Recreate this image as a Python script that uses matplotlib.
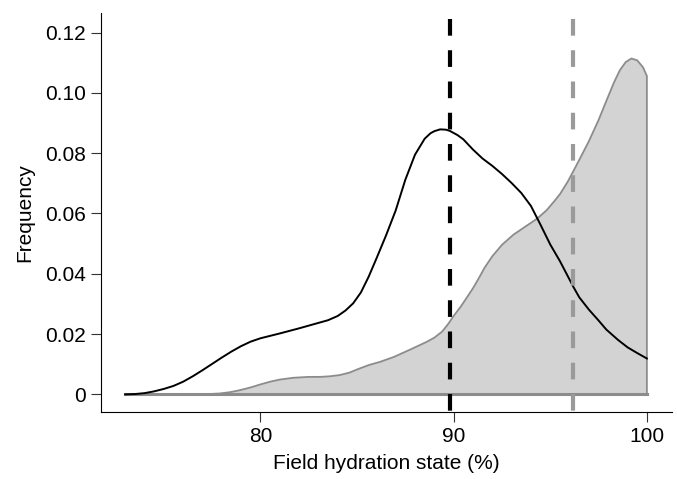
import numpy as np
import matplotlib.pyplot as plt

plt.rcParams['font.family'] = ['Liberation Sans', 'DejaVu Sans']

# Densidad de la curva negra
x_negra = [73.0, 73.5, 74.0, 74.5, 75.0, 75.5, 76.0, 76.5, 77.0, 77.5, 78.0, 78.5, 79.0,
           79.5, 80.0, 81.0, 82.0, 83.0, 83.5, 84.0, 84.4, 84.8, 85.2, 85.6, 86.0, 86.5,
           87.0, 87.5, 88.0, 88.5, 88.8, 89.0, 89.3, 89.6, 89.8, 90.2, 90.5, 91.0, 91.5,
           92.0, 92.5, 93.0, 93.5, 94.0, 94.5, 95.0, 95.5, 96.2, 96.5, 97.0, 97.5, 97.9,
           98.5, 99.0, 99.5, 100.0]
dens_negra = [0.0, 0.0001, 0.0004, 0.0010, 0.0018, 0.0028, 0.0042, 0.0060, 0.0080, 0.0101,
              0.0122, 0.0142, 0.0160, 0.0175, 0.0186, 0.0202, 0.0219, 0.0237, 0.0246,
              0.0260, 0.0278, 0.0302, 0.0338, 0.0390, 0.0450, 0.0527, 0.0610, 0.0712,
              0.0795, 0.0848, 0.0866, 0.0873, 0.0879, 0.0878, 0.0874, 0.0860, 0.0846,
              0.0812, 0.0782, 0.0758, 0.0731, 0.0701, 0.0668, 0.0625, 0.0562, 0.0497,
              0.0442, 0.0356, 0.0322, 0.0281, 0.0245, 0.0215, 0.0181, 0.0156, 0.0137,
              0.0119]

# Densidad de la curva gris (área sombreada)
x_gris = [73.0, 77.0, 77.9, 78.4, 78.8, 79.2, 79.6, 80.0, 80.5, 81.0, 81.7, 82.5, 83.1,
          83.6, 84.1, 84.6, 85.1, 85.6, 86.2, 86.9, 87.8, 88.6, 89.0, 89.4, 89.7, 90.0,
          90.4, 90.7, 91.0, 91.3, 91.6, 92.0, 92.5, 93.1, 93.7, 94.3, 94.8, 95.2, 95.5,
          95.9, 96.2, 96.6, 97.0, 97.5, 97.9, 98.3, 98.6, 98.9, 99.2, 99.5, 99.8, 100.0]
dens_gris = [0.0, 0.0, 0.0003, 0.0007, 0.0012, 0.0018, 0.0025, 0.0033, 0.0042, 0.0049,
             0.0055, 0.0058, 0.0058, 0.0060, 0.0064, 0.0072, 0.0085, 0.0097, 0.0108,
             0.0124, 0.0150, 0.0174, 0.0188, 0.0208, 0.0232, 0.0260, 0.0294, 0.0323,
             0.0352, 0.0385, 0.0420, 0.0458, 0.0496, 0.0530, 0.0556, 0.0582, 0.0610,
             0.0640, 0.0664, 0.0705, 0.0741, 0.0790, 0.0840, 0.0910, 0.0973, 0.1035,
             0.1075, 0.1102, 0.1114, 0.1108, 0.1085, 0.1056]

# Medias (líneas discontinuas)
media_negra = 89.83
media_gris = 96.18

yticks = [0, 0.02, 0.04, 0.06, 0.08, 0.10, 0.12]
ytick_labels = ['0', '0.02', '0.04', '0.06', '0.08', '0.10', '0.12']
xticks = [80, 90, 100]

fig = plt.figure(figsize=(6.77, 4.79), dpi=100)
ax = fig.add_axes([101 / 677, 1 - 412 / 479, 571 / 677, 399 / 479])

# Área gris
xg = np.array(x_gris)
yg = np.array(dens_gris)
ax.fill(np.concatenate([xg, [xg[-1], xg[0]]]), np.concatenate([yg, [0, 0]]),
        facecolor='#d3d3d3', edgecolor='#8c8c8c', linewidth=1.3, zorder=1)
ax.plot([xg[0], xg[-1]], [0, 0], color='#8c8c8c', linewidth=2.2, zorder=2)

# Curva negra
ax.plot(x_negra, dens_negra, color='black', linewidth=1.4, zorder=3)

# Líneas de la media
ax.plot([media_negra, media_negra], [0.1245, -0.0059], color='black', linewidth=3,
        dashes=(4, 3.5), zorder=4, clip_on=False)
ax.plot([media_gris, media_gris], [0.1245, -0.0059], color='#9a9a9a', linewidth=3,
        dashes=(4, 3.5), zorder=4, clip_on=False)

ax.set_xlim(71.75, 101.3)
ax.set_ylim(-0.00585, 0.1265)
ax.set_xticks(xticks)
ax.set_yticks(yticks)
ax.set_yticklabels(ytick_labels)
ax.spines['top'].set_visible(False)
ax.spines['right'].set_visible(False)
ax.tick_params(axis='both', direction='out', length=7.5, width=0.8, pad=3.5,
               labelsize=15, color='#333333')
ax.set_xlabel('Field hydration state (%)', fontsize=15)
ax.set_ylabel('Frequency', fontsize=15)
ax.xaxis.set_label_coords(0.5, -0.105)
ax.yaxis.set_label_coords(-0.117, 0.5)

fig.savefig('out.png', dpi=100)
